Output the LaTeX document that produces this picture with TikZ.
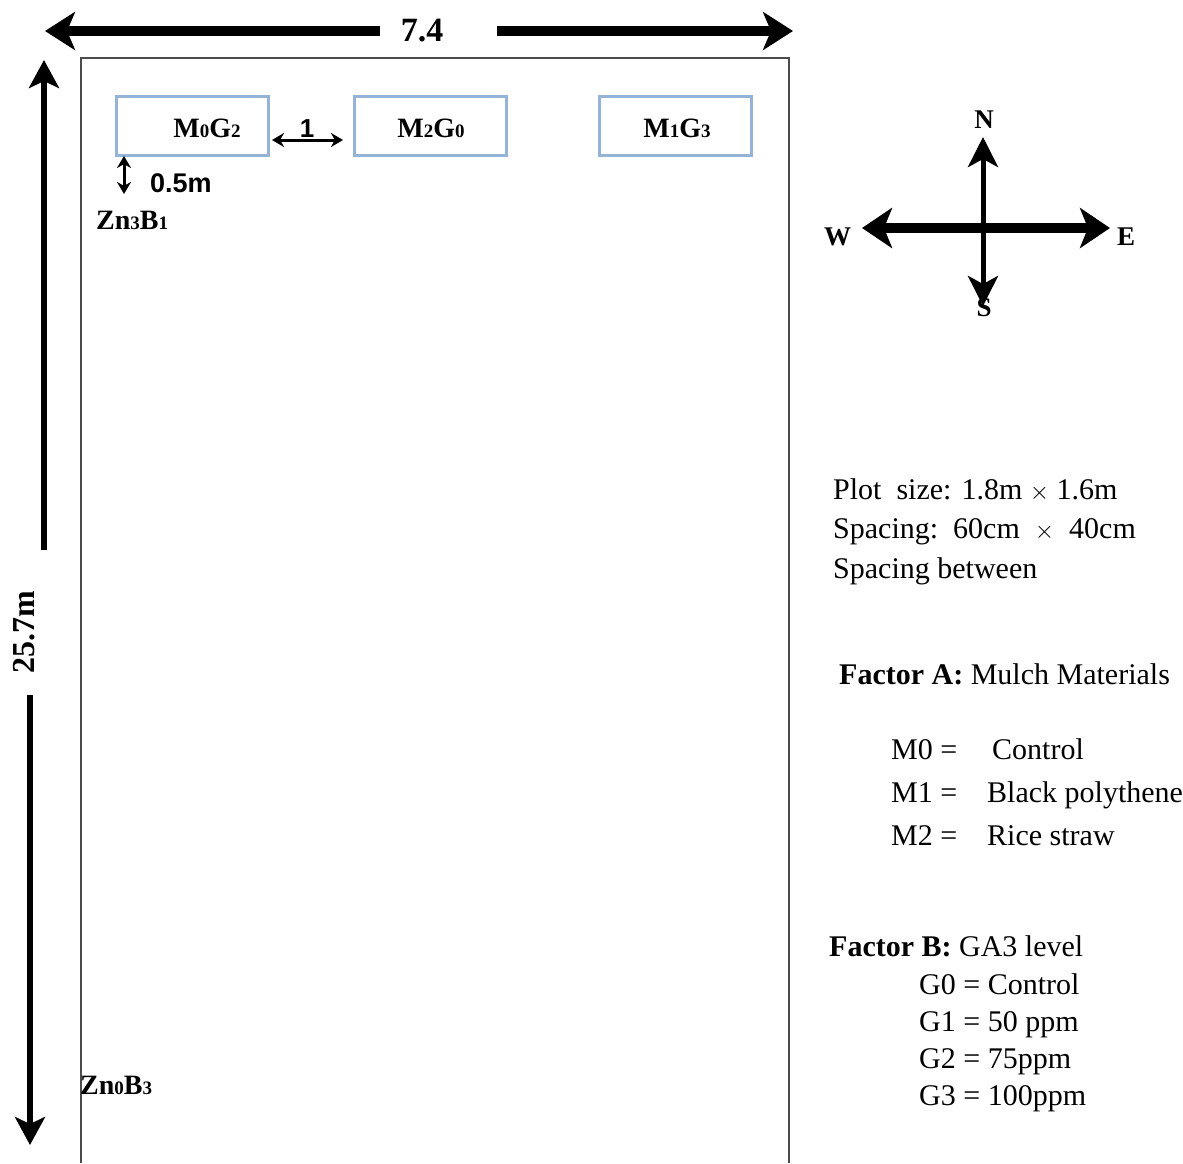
\documentclass[tikz,border=0pt]{standalone}
\usepackage{fontspec}
\setmainfont{Liberation Serif}
\newfontfamily\arialf{Liberation Sans}
\usetikzlibrary{arrows.meta}
\newcommand\smdig[1]{{\fontsize{19}{19}\selectfont #1}}
\begin{document}
\begin{tikzpicture}[x=1pt,y=-1pt,
  plotbox/.style={draw=plotblue,line width=3pt,minimum width=152pt,minimum height=59pt,inner sep=0pt},
  plotlbl/.style={font=\fontsize{28}{30}\selectfont\bfseries,inner sep=0pt,anchor=base},
  info/.style={font=\fontsize{30}{34}\selectfont,inner sep=0pt,anchor=base west},
  dirlbl/.style={font=\fontsize{27}{30}\selectfont\bfseries,inner sep=0pt,anchor=base},
  bigarrow/.style={line width=10pt,-{Stealth[length=30pt,width=38pt,inset=8pt]}},
  midarrow/.style={line width=6pt,-{Stealth[length=28pt,width=30pt,inset=7pt]}},
  thinarrow/.style={line width=3pt,{Stealth[length=12pt,width=14pt]}-{Stealth[length=12pt,width=14pt]}},
  field/.style={draw=black!70,line width=2.5pt}]
\definecolor{plotblue}{HTML}{95B3D7}
\useasboundingbox (0,0) rectangle (1183,1163);
% field outline
\draw[field] (81,1163) -- (81,58) -- (789,58) -- (789,1163);
% top dimension
\node[font=\fontsize{34}{36}\selectfont\bfseries,inner sep=0pt,anchor=base] (w) at (422,41) {7.4};
\coordinate (wl1) at (380,31); \coordinate (wl2) at (45,31);
\coordinate (wr1) at (497,31); \coordinate (wr2) at (793,31);
\draw[bigarrow] (wl1) -- (wl2);
\draw[bigarrow] (wr1) -- (wr2);
% left dimension
\node[font=\fontsize{32}{36}\selectfont\bfseries,inner sep=0pt,rotate=90] (h) at (24,632) {25.7m};
\coordinate (hu1) at (44,550); \coordinate (hu2) at (44,60);
\coordinate (hd1) at (30,695); \coordinate (hd2) at (30,1145);
\draw[midarrow] (hu1) -- (hu2);
\draw[midarrow] (hd1) -- (hd2);
% plots
\node[plotbox] (p1) at (192,125.5) {};
\node[plotbox] (p2) at (430,125.5) {};
\node[plotbox] (p3) at (675,125.5) {};
\node[plotlbl] (t1) at (207,137) {M\smdig{0}G\smdig{2}};
\node[plotlbl] (t2) at (431,137) {M\smdig{2}G\smdig{0}};
\node[plotlbl] (t3) at (677,137) {M\smdig{1}G\smdig{3}};
% spacing arrows
\coordinate (sa1) at (272,140); \coordinate (sa2) at (343,140);
\draw[thinarrow] (sa1) -- (sa2);
\node[font=\fontsize{26}{28}\selectfont\arialf\bfseries,inner sep=0pt,anchor=base] (one) at (307,137) {1};
\coordinate (sv1) at (124,156); \coordinate (sv2) at (124,194);
\draw[thinarrow] (sv1) -- (sv2);
\node[font=\fontsize{27}{28}\selectfont\arialf\bfseries,inner sep=0pt,anchor=base west] (half) at (150,192) {0.5m};
\node[plotlbl,anchor=base west] (zn1) at (96,229) {Zn\smdig{3}B\smdig{1}};
\node[plotlbl,anchor=base west] (zn2) at (80,1094) {Zn\smdig{0}B\smdig{3}};
% compass
\coordinate (cw) at (862,228); \coordinate (ce) at (1110,228);
\coordinate (cn) at (983,137); \coordinate (cs) at (983,306);
\coordinate (cc) at (983,228);
\draw[line width=10pt,{Stealth[length=30pt,width=40pt,inset=8pt]}-{Stealth[length=30pt,width=40pt,inset=8pt]}] (cw) -- (ce);
\draw[line width=5pt,{Stealth[length=30pt,width=30pt,inset=8pt]}-{Stealth[length=30pt,width=30pt,inset=8pt]}] (cn) -- (cs);
\node[dirlbl] (N) at (984,128) {N};
\node[dirlbl] (S) at (984,316) {S};
\node[dirlbl,anchor=base west] (W) at (824,245) {W};
\node[dirlbl,anchor=base west] (E) at (1117,245) {E};
% info text
\node[info] (i1) at (833,499) {Plot\ \ size: 1.8m $\times$ 1.6m};
\node[info] (i2) at (833,538) {Spacing:\ \ 60cm\ \ $\times$\ \ 40cm};
\node[info] (i3) at (833,578) {Spacing between};
\node[info] (fa) at (839,684) {\textbf{Factor A:} Mulch Materials};
\node[info] (m0) at (891,759) {M0 =};
\node[info] (m0b) at (992,759) {Control};
\node[info] (m1) at (891,802) {M1 =};
\node[info] (m1b) at (987,802) {Black polythene};
\node[info] (m2) at (891,845) {M2 =};
\node[info] (m2b) at (987,845) {Rice straw};
\node[info] (fb) at (829,956) {\textbf{Factor B:} GA3 level};
\node[info] (g0) at (919,994) {G0 = Control};
\node[info] (g1) at (919,1031) {G1 = 50 ppm};
\node[info] (g2) at (919,1068) {G2 = 75ppm};
\node[info] (g3) at (919,1105) {G3 = 100ppm};
\end{tikzpicture}
\end{document}
